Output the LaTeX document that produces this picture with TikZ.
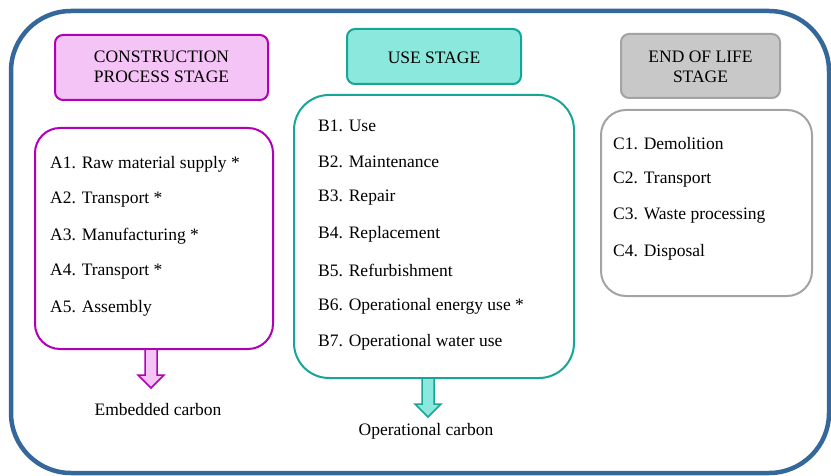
\documentclass[tikz,border=0pt]{standalone}
\usepackage{fontspec}
\setmainfont{Liberation Serif}
\newfontfamily\serfont{Liberation Serif}
\usetikzlibrary{calc}
\begin{document}
\begin{tikzpicture}[x=1pt,y=-1pt,
  font=\serfont\fontsize{17.5}{21}\selectfont,
  frame/.style={draw=frameblue,line width=4.5pt,rounded corners=60pt},
  hdr/.style={rounded corners=8pt,line width=2pt,align=center,inner sep=0pt},
  listbox/.style={line width=2pt},
  item/.style={anchor=west,inner sep=0pt},
  fatarrow/.style={line width=1.5pt,line join=miter}
]
\definecolor{frameblue}{HTML}{34679A}
\definecolor{magborder}{HTML}{B000B8}
\definecolor{pinkfill}{HTML}{F5C4F6}
\definecolor{tealborder}{HTML}{17A597}
\definecolor{tealfill}{HTML}{8AE8DC}
\definecolor{grayborder}{HTML}{A3A3A3}
\definecolor{grayfill}{HTML}{C8C8C8}
\useasboundingbox (0,0) rectangle (831,476);
\draw[frame] (11,11) rectangle (829,473);

% headers
\draw[hdr,draw=magborder,fill=pinkfill] (55,35) rectangle (268,100);
\node[align=center] (hA) at (161.5,67) {CONSTRUCTION\\[-1pt]PROCESS STAGE};
\draw[hdr,draw=tealborder,fill=tealfill] (347,29) rectangle (521,84);
\node (hB) at (434,57.5) {USE STAGE};
\draw[hdr,draw=grayborder,fill=grayfill] (621,34) rectangle (780,98);
\node[align=center] (hC) at (700.5,67) {END OF LIFE\\[-1pt]STAGE};

% list boxes
\draw[listbox,draw=magborder,rounded corners=25pt] (35,128) rectangle (273,349);
\coordinate (Abot) at (151,349);
\draw[listbox,draw=tealborder,rounded corners=35pt] (294,95) rectangle (574,378);
\coordinate (Bbot) at (428,378);
\draw[listbox,draw=grayborder,rounded corners=25pt] (601,110) rectangle (812,296);

% items
\node[item] (a1) at (50,164) {A1. Raw material supply *};
\node[item] (a2) at (50,200) {A2. Transport *};
\node[item] (a3) at (50,236) {A3. Manufacturing *};
\node[item] (a4) at (50,272) {A4. Transport *};
\node[item] (a5) at (50,308) {A5. Assembly};

\node[item] (b1) at (318,126) {B1. Use};
\node[item] (b2) at (318,162) {B2. Maintenance};
\node[item] (b3) at (318,198) {B3. Repair};
\node[item] (b4) at (318,234) {B4. Replacement};
\node[item] (b5) at (318,270) {B5. Refurbishment};
\node[item] (b6) at (318,306) {B6. Operational energy use *};
\node[item] (b7) at (318,342) {B7. Operational water use};

\node[item] (c1) at (613,144) {C1. Demolition};
\node[item] (c2) at (613,180) {C2. Transport};
\node[item] (c3) at (613,216) {C3. Waste processing};
\node[item] (c4) at (613,252) {C4. Disposal};

% arrows
\draw[fatarrow,draw=magborder,fill=pinkfill]
  ($(Abot)+(-6,0)$) -- ++(0,26) -- ++(-7,0) -- ++(13,13) -- ++(13,-13) -- ++(-7,0) -- ++(0,-26) -- cycle;
\draw[fatarrow,draw=tealborder,fill=tealfill]
  ($(Bbot)+(-6,0)$) -- ++(0,26) -- ++(-7,0) -- ++(13,13) -- ++(13,-13) -- ++(-7,0) -- ++(0,-26) -- cycle;

\node (ec) at (158,410) {Embedded carbon};
\node (oc) at (426,431) {Operational carbon};
\end{tikzpicture}
\end{document}
